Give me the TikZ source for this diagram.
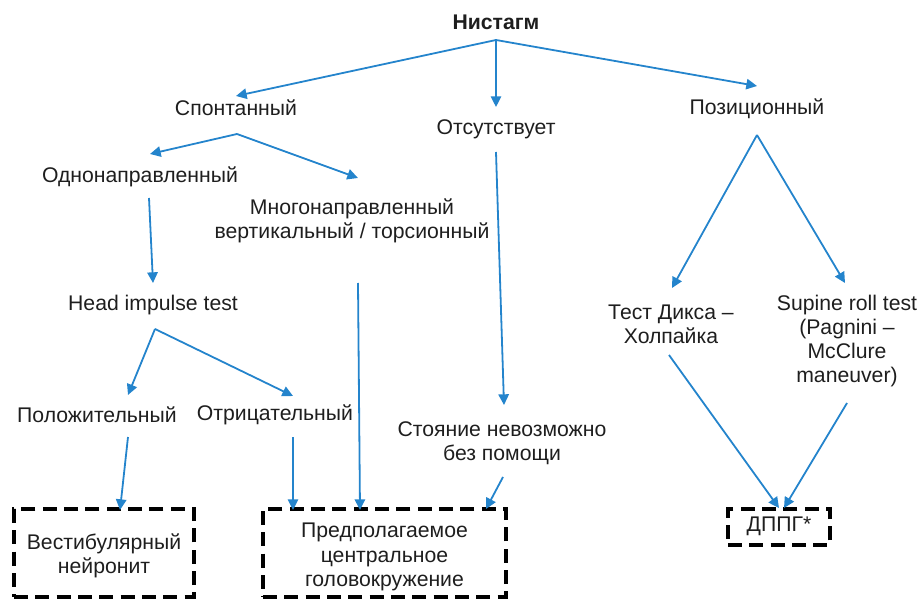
\documentclass[tikz,border=0pt]{standalone}
\usepackage{fontspec}
\setmainfont{Liberation Sans}
\usetikzlibrary{arrows.meta}
\definecolor{arrowblue}{RGB}{36,132,204}
\definecolor{txt}{RGB}{30,30,30}
\tikzset{
  lbl/.style={inner sep=0pt, align=center, text=txt, font=\fontsize{15.9}{18.2}\selectfont},
  conn/.style={draw=arrowblue, line width=1.35pt, -{Triangle[length=8pt,width=7.8pt]}},
  dashbox/.style={draw=black, line width=2.3pt, dash pattern=on 10.5pt off 5.5pt, inner sep=0pt}
}
\begin{document}
\begin{tikzpicture}[x=0.75pt,y=-0.75pt]
\useasboundingbox (0,0) rectangle (922,599);
% labels
\node[lbl, font=\fontsize{15.9}{18.2}\selectfont\bfseries] (nys) at (496,22) {Нистагм};
\node[lbl] (spont) at (236,108) {Спонтанный};
\node[lbl] (abs) at (496,129) {Отсутствует};
\node[lbl] (pos) at (757,109) {Позиционный};
\node[lbl] (uni) at (140,177) {Однонаправленный};
\node[lbl] (multi) at (352,221) {Многонаправленный\\вертикальный / торсионный};
\node[lbl] (hit) at (153,305) {Head impulse test};
\node[lbl] (plus) at (97,415) {Положительный};
\node[lbl] (minus) at (275,415) {Отрицательный};
\node[lbl] (stand) at (502,443) {Стояние невозможно\\без помощи};
\node[lbl] (dix) at (671,324) {Тест Дикса –\\Холпайка};
\node[lbl] (sup) at (847,341) {Supine roll test\\(Pagnini –\\McClure\\maneuver)};
% boxes
\node[dashbox, minimum width=135pt, minimum height=66pt] (vn) at (104,553) {};
\node[lbl] (vnt) at (104,556) {Вестибулярный\\нейронит};
\node[dashbox, minimum width=182.25pt, minimum height=66pt] (cv) at (384.5,553) {};
\node[lbl] (cvt) at (384.5,557) {Предполагаемое\\центральное\\головокружение};
\node[dashbox, minimum width=76.5pt, minimum height=27pt] (bppv) at (779,527) {};
\node[lbl] (bppvt) at (779,526) {ДППГ*};
% connector points
\coordinate (nysA) at (496,40);
\coordinate (spontT) at (236,96);
\coordinate (absT) at (496,107);
\coordinate (posT) at (757,86);
\coordinate (spontA) at (237,134);
\coordinate (uniT) at (150,154);
\coordinate (multiT) at (358,178);
\coordinate (uniB) at (149,198);
\coordinate (hitT) at (153,283);
\coordinate (hitA) at (155,329);
\coordinate (plusT) at (128,395);
\coordinate (minusT) at (293,396);
\coordinate (plusB) at (128,437);
\coordinate (vnT) at (120,510);
\coordinate (minusB) at (293,437);
\coordinate (cvT1) at (293,510);
\coordinate (multiB) at (358,283);
\coordinate (cvT2) at (360,510);
\coordinate (absB) at (496,152);
\coordinate (standT) at (504,405);
\coordinate (standB) at (503,477);
\coordinate (cvT3) at (486,509);
\coordinate (posA) at (757,135);
\coordinate (dixT) at (672,288);
\coordinate (supT) at (845,283);
\coordinate (dixB) at (669,355);
\coordinate (bppvT1) at (779,508);
\coordinate (supB) at (847,403);
\coordinate (bppvT2) at (784,508);
% connectors
\draw[conn] (nysA) -- (spontT);
\draw[conn] (nysA) -- (absT);
\draw[conn] (nysA) -- (posT);
\draw[conn] (spontA) -- (uniT);
\draw[conn] (spontA) -- (multiT);
\draw[conn] (uniB) -- (hitT);
\draw[conn] (hitA) -- (plusT);
\draw[conn] (hitA) -- (minusT);
\draw[conn] (plusB) -- (vnT);
\draw[conn] (minusB) -- (cvT1);
\draw[conn] (multiB) -- (cvT2);
\draw[conn] (absB) -- (standT);
\draw[conn] (standB) -- (cvT3);
\draw[conn] (posA) -- (dixT);
\draw[conn] (posA) -- (supT);
\draw[conn] (dixB) -- (bppvT1);
\draw[conn] (supB) -- (bppvT2);
\end{tikzpicture}
\end{document}
